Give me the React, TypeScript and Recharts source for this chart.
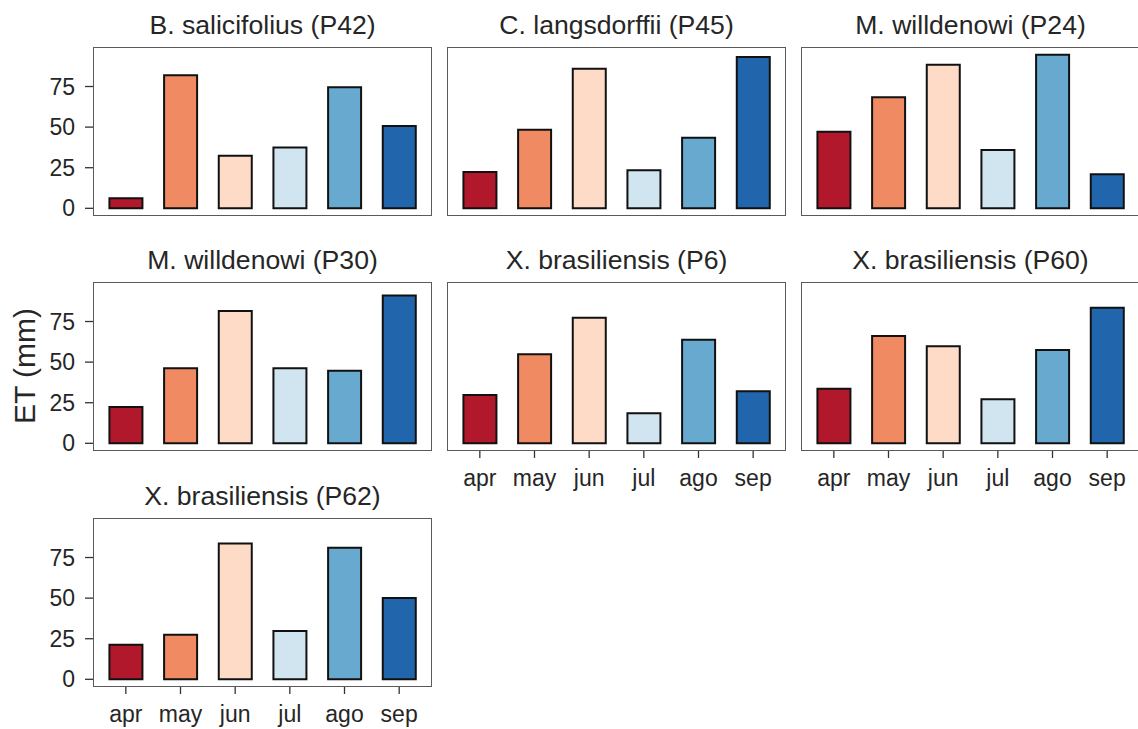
import { BarChart, Bar, XAxis, YAxis, Cell } from 'recharts';

const months = ['apr', 'may', 'jun', 'jul', 'ago', 'sep'];
const monthColors = ['#B2182B', '#EF8A62', '#FDDBC7', '#D1E5F0', '#67A9CF', '#2166AC'];
const yTicks = [0, 25, 50, 75];

const titles = [
  'B. salicifolius (P42)',
  'C. langsdorffii (P45)',
  'M. willdenowi (P24)',
  'M. willdenowi (P30)',
  'X. brasiliensis (P6)',
  'X. brasiliensis (P60)',
  'X. brasiliensis (P62)',
];

const p42 = [6.2, 82, 32.3, 37.5, 74.6, 50.7];
const p45 = [22.4, 48.4, 86, 23.5, 43.5, 93.1];
const p24 = [47.2, 68.4, 88.4, 35.9, 94.6, 21];
const p30 = [22.4, 46.2, 81.4, 46.2, 44.7, 91];
const p6 = [29.8, 54.9, 77.3, 18.5, 63.8, 32.1];
const p60 = [33.6, 66.1, 59.7, 27.2, 57.4, 83.5];
const p62 = [21.3, 27.5, 83.7, 29.8, 81, 50];

const series = [p42, p45, p24, p30, p6, p60, p62];

// shared y scale like facet_wrap with fixed scales (5% expansion)
const yMax = Math.max(...series.flat());
const yDomain = [-yMax * 0.05, yMax * 1.05];

const font = '"Liberation Sans", Arial, sans-serif';
const textColor = '#262626';

const panelW = 339;
const panelH = 169;
const colLefts = [93, 447, 801];
const rowTops = [47, 282, 518];
const padL = 70;
const padT = 40;
const padB = 45;
const padR = 2;

function Panel({ index }: { index: number }) {
  const row = Math.floor(index / 3);
  const col = index % 3;
  const showY = col === 0;
  const showX = index + 3 >= series.length;
  const left = colLefts[col];
  const top = rowTops[row];
  const data = months.map((m, i) => ({ month: m, et: series[index][i] }));

  return (
    <>
      <svg
        width={panelW}
        height={padT}
        style={{ position: 'absolute', left, top: top - padT, overflow: 'visible' }}
      >
        <text
          x={panelW / 2}
          y={27}
          textAnchor="middle"
          fontFamily={font}
          fontSize={26.6}
          fill={textColor}
        >
          {titles[index]}
        </text>
      </svg>
      <div style={{ position: 'absolute', left: left - padL, top: top - padT }}>
        <BarChart
          width={padL + panelW + padR}
          height={padT + panelH + padB}
          data={data}
          margin={{ top: padT, right: padR, bottom: showX ? 0 : padB, left: showY ? 0 : padL }}
          barCategoryGap="20%"
        >
          <XAxis
            dataKey="month"
            hide={!showX}
            height={padB}
            padding={{ left: 5.5, right: 5.5 }}
            axisLine={false}
            tickLine={{ stroke: '#333', strokeWidth: 1.3 }}
            tickSize={7}
            tickMargin={12}
            interval={0}
            tick={{ fill: textColor, fontSize: 23, fontFamily: font }}
          />
          <YAxis
            type="number"
            domain={yDomain}
            ticks={yTicks}
            hide={!showY}
            width={padL}
            axisLine={false}
            tickLine={{ stroke: '#333', strokeWidth: 1.3 }}
            tickSize={8}
            tickMargin={10}
            tick={{ fill: textColor, fontSize: 23, fontFamily: font }}
          />
          <Bar dataKey="et" stroke="#111" strokeWidth={2} isAnimationActive={false}>
            {data.map((d, i) => (
              <Cell key={d.month} fill={monthColors[i]} />
            ))}
          </Bar>
        </BarChart>
      </div>
      <div
        style={{
          position: 'absolute',
          left,
          top,
          width: panelW,
          height: panelH,
          boxSizing: 'border-box',
          border: '1.5px solid #5a5a5a',
          pointerEvents: 'none',
        }}
      />
    </>
  );
}

export default function App() {
  return (
    <div
      style={{
        position: 'absolute',
        left: 0,
        top: 0,
        width: 1138,
        height: 729,
        overflow: 'hidden',
        background: '#fff',
      }}
    >
      {series.map((_, i) => (
        <Panel key={titles[i]} index={i} />
      ))}
      <svg width={60} height={729} style={{ position: 'absolute', left: 0, top: 0 }}>
        <text
          transform="translate(35, 366) rotate(-90)"
          textAnchor="middle"
          fontFamily={font}
          fontSize={30}
          fill={textColor}
        >
          ET (mm)
        </text>
      </svg>
    </div>
  );
}
